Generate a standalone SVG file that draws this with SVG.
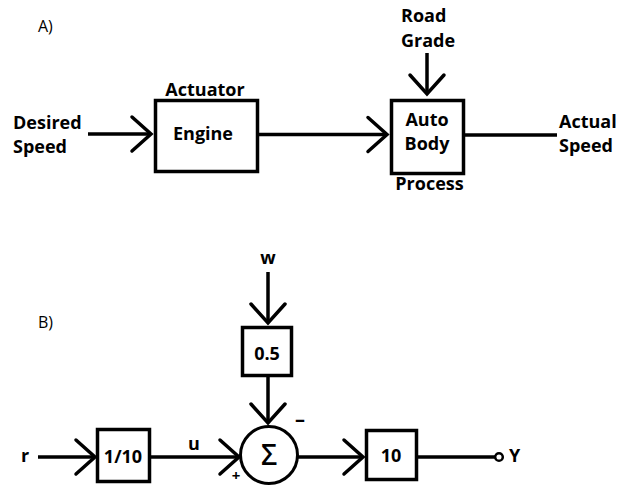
<svg xmlns="http://www.w3.org/2000/svg" width="618" height="486" viewBox="0 0 618 486">
<style>
text{font-family:"Open Sans","Liberation Sans",sans-serif;font-size:18px;font-weight:700;fill:#000}
.lab{font-weight:400;font-size:16px}
.box{fill:#fff;stroke:#000;stroke-width:3.5}
.c{fill:none;stroke:#000;stroke-width:3.5}
.m{text-anchor:middle}
</style>
<defs>
<marker id="chev" markerUnits="userSpaceOnUse" markerWidth="40" markerHeight="40" viewBox="-30 -20 40 40" refX="0" refY="0" orient="auto" overflow="visible">
<path d="M-19,-17 L0,0 L-19,17" fill="none" stroke="#000" stroke-width="3.5" stroke-linecap="round" stroke-linejoin="miter"/>
</marker>
</defs>
<rect width="618" height="486" fill="#fff"/>
<text class="lab" x="38" y="32">A)</text>
<text class="lab" x="38" y="328">B)</text>
<g id="connectors">
<line class="c" x1="88" y1="134" x2="151" y2="134" marker-end="url(#chev)"/>
<line class="c" x1="259" y1="134.5" x2="387" y2="134.5" marker-end="url(#chev)"/>
<line class="c" x1="427" y1="53" x2="427" y2="94" marker-end="url(#chev)"/>
<line class="c" x1="465" y1="135" x2="557" y2="135"/>
<line class="c" x1="268" y1="272" x2="268" y2="323" marker-end="url(#chev)"/>
<line class="c" x1="268" y1="377" x2="268" y2="423" marker-end="url(#chev)"/>
<line class="c" x1="38" y1="457" x2="95" y2="457" marker-end="url(#chev)"/>
<line class="c" x1="151" y1="457" x2="239" y2="457" marker-end="url(#chev)"/>
<line class="c" x1="298" y1="457" x2="363" y2="457" marker-end="url(#chev)"/>
<line class="c" x1="418" y1="457" x2="495" y2="457"/>
<circle cx="499" cy="457" r="3.8" fill="#fff" stroke="#000" stroke-width="2.5"/>
</g>
<g id="desired-speed"><text x="13" y="129">Desired</text><text x="13" y="153">Speed</text></g>
<g id="engine">
<rect class="box" x="155.5" y="100.5" width="102" height="71"/>
<text class="m" x="205" y="96">Actuator</text>
<text class="m" x="203" y="140">Engine</text>
</g>
<g id="road-grade"><text x="401" y="22">Road</text><text x="401" y="47">Grade</text></g>
<g id="auto-body">
<rect class="box" x="391.5" y="100.5" width="72" height="73"/>
<text class="m" x="427" y="126">Auto</text>
<text class="m" x="427" y="150">Body</text>
<text class="m" x="429.5" y="190">Process</text>
</g>
<g id="actual-speed"><text x="559" y="128">Actual</text><text x="559" y="152">Speed</text></g>
<g id="w"><text class="m" x="268" y="264">w</text></g>
<g id="gain-05"><rect class="box" x="242.5" y="327.5" width="49" height="48"/><text class="m" x="267" y="360">0.5</text></g>
<g id="r"><text class="m" x="25" y="462">r</text></g>
<g id="gain-110"><rect class="box" x="97.5" y="429.5" width="52" height="52"/><text class="m" x="123" y="463">1/10</text></g>
<g id="u"><text class="m" x="194" y="450">u</text></g>
<g id="sum">
<circle cx="269" cy="455" r="28.5" fill="#fff" stroke="#000" stroke-width="3"/>
<text class="m" x="269" y="465" style="font-size:28px;font-weight:600">Σ</text>
<text class="m" x="300" y="426" style="font-size:20px">–</text>
<text class="m" x="236" y="481" style="font-size:15px">+</text>
</g>
<g id="gain-10"><rect class="box" x="366.5" y="430.5" width="50" height="49"/><text class="m" x="391" y="462">10</text></g>
<g id="y"><text x="509" y="462">Y</text></g>
</svg>
